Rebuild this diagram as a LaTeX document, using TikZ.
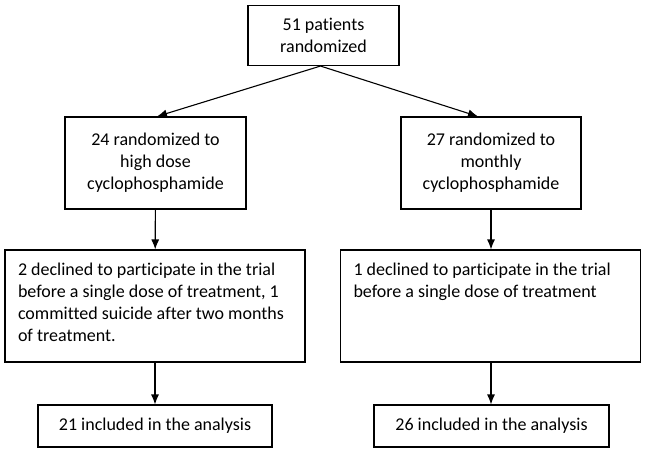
\documentclass[tikz,border=0pt]{standalone}
\usepackage{fontspec}
\setmainfont{Carlito}[Ligatures=NoCommon]
\usetikzlibrary{arrows.meta,positioning}
\tikzset{%
	box/.style    = {draw, rectangle, line width=1.1pt, inner sep=0pt, align=center, font=\fontsize{18}{22}\selectfont},
	bigbox/.style = {draw, rectangle, line width=1.1pt, inner xsep=13pt, inner ysep=13pt, font=\fontsize{18}{22}\selectfont},
	arrow/.style  = {line width=1.1pt,-{Latex[length=10pt,width=8pt]}},
}
\newcommand{\toptext}[1]{\parbox[c][86pt][t]{274pt}{\raggedright #1}}

\begin{document}
\begin{tikzpicture}[x=1pt,y=-1pt]
	\useasboundingbox (0,0) rectangle (647,453);
	
	\node[box, minimum width=151pt, minimum height=60pt] (all) at (323.5,35.5) {51 patients\\randomized};
	
	\node[box, minimum width=181pt, minimum height=92pt] (high) at (155.5,163) {24 randomized to\\high dose\\cyclophosphamide};
	\node[box, minimum width=180pt, minimum height=92pt] (monthly) at (491,163) {27 randomized to\\monthly\\cyclophosphamide};
	
	\node[bigbox] (lostH) at (155,306) {\toptext{2 declined to participate in the trial\\before a single dose of treatment, 1\\committed suicide after two months\\of treatment.}};
	\node[bigbox] (lostM) at (490.5,306) {\toptext{1 declined to participate in the trial\\before a single dose of treatment}};
	
	\node[box, minimum width=234pt, minimum height=42pt] (anaH) at (155,426) {21 included in the analysis};
	\node[box, minimum width=235pt, minimum height=42pt] (anaM) at (491.5,426) {26 included in the analysis};
	
	\draw[arrow] ([xshift=-3pt]all.south) -- ([xshift=1.5pt]high.north);
	\draw[arrow] ([xshift=-3pt]all.south) -- ([xshift=-13pt]monthly.north);
	\draw[arrow] (high) -- (lostH);
	\draw[arrow] (monthly) -- (monthly |- lostM.north);
	\draw[arrow] (lostH) -- (lostH |- anaH.north);
	\draw[arrow] (monthly |- lostM.south) -- (monthly |- anaM.north);
\end{tikzpicture}
\end{document}
